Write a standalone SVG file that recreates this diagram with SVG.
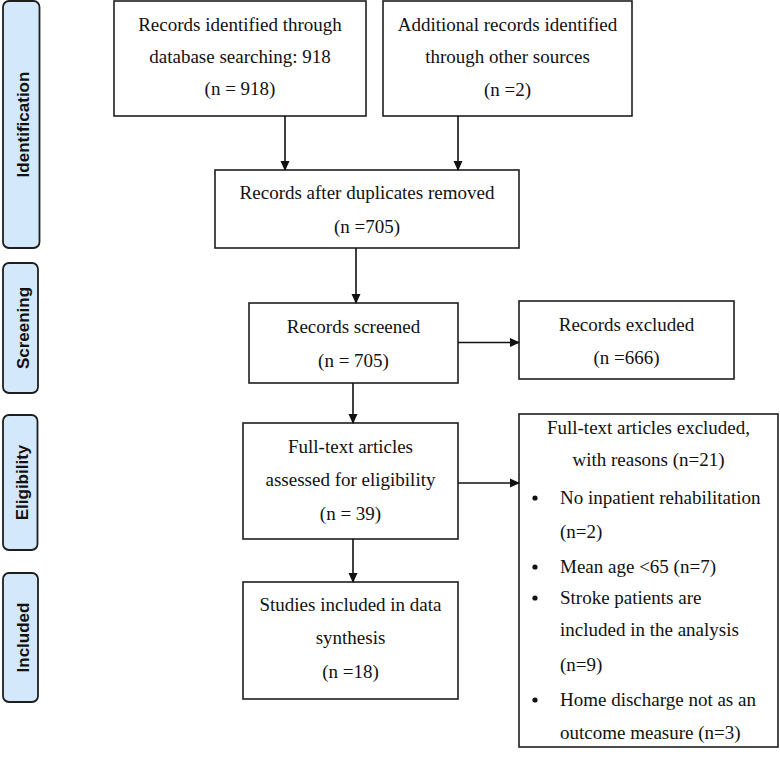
<svg xmlns="http://www.w3.org/2000/svg" width="780" height="758" viewBox="0 0 780 758">
<style>
.side{fill:#d3e8fb;stroke:#1e1e1e;stroke-width:1.8}
.lbl{font-family:"Liberation Sans",Arial,sans-serif;font-weight:bold;font-size:17px;fill:#111;text-anchor:middle}
.box{fill:#fff;stroke:#1e1e1e;stroke-width:1.6}
.t{font-family:"Liberation Serif","Times New Roman",serif;font-size:19px;fill:#111;text-anchor:middle}
.tl{font-family:"Liberation Serif","Times New Roman",serif;font-size:19px;fill:#111}
.c{stroke:#111;stroke-width:1.6;fill:none;marker-end:url(#ah)}
</style>
<defs>
<marker id="ah" markerWidth="10" markerHeight="10" refX="9" refY="5" orient="auto" markerUnits="userSpaceOnUse">
<path d="M0,0.5 L10,5 L0,9.5 z" fill="#111"/>
</marker>
</defs>
<rect width="780" height="758" fill="#fff"/>
<g id="stage-identification"><rect class="side" x="3" y="1" width="36.5" height="247" rx="6"/><text class="lbl" transform="translate(29,124.5) rotate(-90)">Identification</text></g>
<g id="stage-screening"><rect class="side" x="3" y="263" width="35" height="130" rx="6"/><text class="lbl" transform="translate(28.5,328) rotate(-90)">Screening</text></g>
<g id="stage-eligibility"><rect class="side" x="3" y="415" width="34.5" height="135" rx="6"/><text class="lbl" transform="translate(28,482.5) rotate(-90)">Eligibility</text></g>
<g id="stage-included"><rect class="side" x="3" y="573" width="35" height="129" rx="6"/><text class="lbl" transform="translate(28.5,637.5) rotate(-90)">Included</text></g>

<g id="n-database"><rect class="box" x="114" y="1" width="252" height="115"/>
<text class="t" x="240" y="31">Records identified through</text>
<text class="t" x="240" y="63">database searching: 918</text>
<text class="t" x="240" y="95">(n = 918)</text></g>

<g id="n-other"><rect class="box" x="383" y="1" width="249" height="115"/>
<text class="t" x="507.5" y="31">Additional records identified</text>
<text class="t" x="507.5" y="63">through other sources</text>
<text class="t" x="507.5" y="96">(n =2)</text></g>

<g id="n-duplicates"><rect class="box" x="215" y="170" width="304" height="78"/>
<text class="t" x="367" y="199">Records after duplicates removed</text>
<text class="t" x="367" y="233">(n =705)</text></g>

<g id="n-screened"><rect class="box" x="249" y="303" width="209" height="80"/>
<text class="t" x="353.5" y="333">Records screened</text>
<text class="t" x="353.5" y="367">(n = 705)</text></g>

<g id="n-excluded"><rect class="box" x="519" y="301" width="215" height="78"/>
<text class="t" x="626.5" y="331">Records excluded</text>
<text class="t" x="626.5" y="364">(n =666)</text></g>

<g id="n-fulltext"><rect class="box" x="243" y="423" width="215" height="116"/>
<text class="t" x="350.5" y="453">Full-text articles</text>
<text class="t" x="350.5" y="486">assessed for eligibility</text>
<text class="t" x="350.5" y="520">(n = 39)</text></g>

<g id="n-included"><rect class="box" x="243" y="582" width="215" height="117"/>
<text class="t" x="350.5" y="611">Studies included in data</text>
<text class="t" x="350.5" y="644">synthesis</text>
<text class="t" x="350.5" y="678">(n =18)</text></g>

<g id="n-ftexcluded"><rect class="box" x="519" y="414" width="259" height="333"/>
<text class="t" x="648.5" y="434">Full-text articles excluded,</text>
<text class="t" x="648.5" y="466">with reasons (n=21)</text>
<circle cx="535" cy="498" r="2.6" fill="#111"/>
<text class="tl" x="560" y="504">No inpatient rehabilitation</text>
<text class="tl" x="560" y="538">(n=2)</text>
<circle cx="535" cy="567" r="2.6" fill="#111"/>
<text class="tl" x="560" y="573">Mean age &lt;65 (n=7)</text>
<circle cx="535" cy="598" r="2.6" fill="#111"/>
<text class="tl" x="560" y="604">Stroke patients are</text>
<text class="tl" x="560" y="636">included in the analysis</text>
<text class="tl" x="560" y="671">(n=9)</text>
<circle cx="535" cy="700" r="2.6" fill="#111"/>
<text class="tl" x="560" y="706">Home discharge not as an</text>
<text class="tl" x="560" y="739">outcome measure (n=3)</text></g>

<g id="connectors">
<line class="c" x1="285" y1="116" x2="285" y2="170"/>
<line class="c" x1="458" y1="116" x2="458" y2="170"/>
<line class="c" x1="356" y1="248" x2="356" y2="303"/>
<line class="c" x1="458" y1="342.5" x2="519" y2="342.5"/>
<line class="c" x1="353" y1="383" x2="353" y2="423"/>
<line class="c" x1="458" y1="483" x2="519" y2="483"/>
<line class="c" x1="353" y1="539" x2="353" y2="582"/>
</g>
</svg>
